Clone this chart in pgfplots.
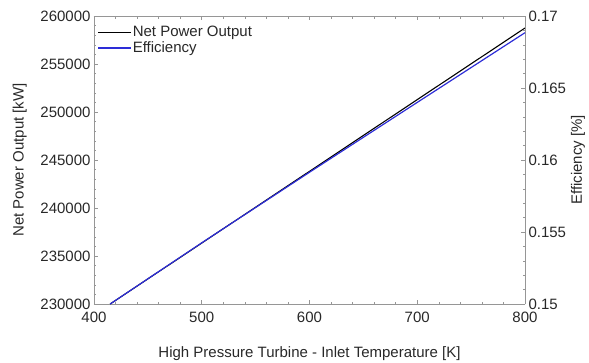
\documentclass[border=0pt]{standalone}
\usepackage{fontspec}
\setmainfont{Liberation Sans}
\usepackage{pgfplots}
\pgfplotsset{compat=1.18}
\definecolor{txt}{RGB}{40,40,40}
\definecolor{axc}{RGB}{150,150,150}
\definecolor{eff}{RGB}{45,45,215}
\begin{document}
\begin{tikzpicture}
\pgfplotsset{
  every axis/.append style={
    scale only axis, width=431pt, height=288pt,
    xmin=400, xmax=800,
    tick align=inside,
    major tick length=4pt, minor tick length=2.5pt,
    every tick/.style={axc, line width=0.6pt},
    axis line style={axc, line width=0.8pt},
    tick label style={font=\fontsize{15}{18}\selectfont, text=txt},
    label style={font=\fontsize{15}{18}\selectfont, text=txt},
    scaled y ticks=false, scaled x ticks=false,
    /pgf/number format/assume math mode=true,
    /pgf/number format/set thousands separator={},
  }
}
\begin{axis}[
  ymin=230000, ymax=260000,
  axis y line*=left,
  xtick={400,500,600,700,800},
  xticklabel style={yshift=-4pt},
  minor x tick num=4,
  ytick={230000,235000,240000,245000,250000,255000,260000},
  yticklabels={230000,235000,240000,245000,250000,255000,260000},
  minor y tick num=4,
  xlabel={High Pressure Turbine - Inlet Temperature [K]},
  ylabel={Net Power Output [kW]},
  xlabel style={at={(0.5,-0.135)}, anchor=north},
  ylabel style={at={(-0.172,0.5)}, anchor=center},
]
\addplot[black, line width=1.1pt] coordinates {(415,230000) (500,236350) (600,243820) (700,251290) (800,258750)};
\end{axis}
\begin{axis}[
  ymin=0.15, ymax=0.17,
  axis y line*=right, axis x line*=top,
  xtick={400,500,600,700,800}, xticklabels={},
  minor x tick num=4,
  ytick={0.15,0.155,0.16,0.165,0.17},
  yticklabels={0.15,0.155,0.16,0.165,0.17},
  minor y tick num=4,
  ylabel={Efficiency [\%]},
  ylabel style={at={(1.123,0.5)}, anchor=center},
  legend style={draw=none, fill=none, at={(0.005,0.975)}, anchor=north west,
    font=\fontsize{15}{17}\selectfont, text=txt, inner sep=1pt, row sep=-0.5pt,
    nodes={inner xsep=1pt}},
  legend cell align=left,
  legend image code/.code={\draw[#1, line width=1.4pt] (0pt,0pt) -- (33pt,0pt);},
]
\addlegendimage{black}
\addlegendentry{Net Power Output}
\addplot[eff, line width=1.2pt] coordinates {(415,0.15) (500,0.15425) (600,0.15915) (700,0.16400) (800,0.16884)};
\addlegendentry{Efficiency}
\end{axis}
\pgfresetboundingbox
\path (-94pt,-58pt) rectangle (495pt,304pt);
\end{tikzpicture}
\end{document}
